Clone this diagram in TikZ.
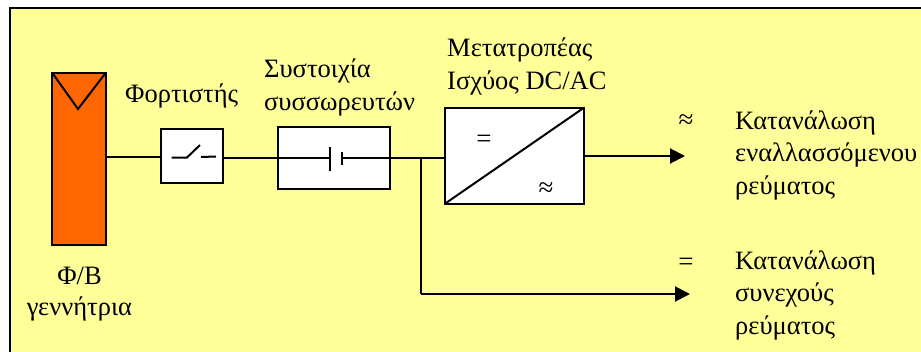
\documentclass[tikz,border=0pt]{standalone}
\usepackage{fontspec}
\setmainfont{Liberation Serif}
\usetikzlibrary{arrows.meta}
\definecolor{bgy}{HTML}{FFFF99}
\definecolor{pv}{HTML}{FF6600}
\tikzset{
  wire/.style={line width=2pt,draw=black},
  boxw/.style={draw=black,fill=white,line width=2pt,inner sep=0pt,outer sep=0pt},
  lbl/.style={font=\fontsize{26.5}{32.5}\selectfont,inner sep=0pt,align=left,anchor=base west},
  lblc/.style={font=\fontsize{26.5}{31}\selectfont,inner sep=0pt,align=center,anchor=base},
  sym/.style={font=\fontsize{27}{30}\selectfont,inner sep=0pt},
  arrowed/.style={wire,-{Triangle[length=15pt,width=15pt]}}
}
\begin{document}
\begin{tikzpicture}[x=1pt,y=-1pt]
\useasboundingbox (0,0) rectangle (921,351);
\fill[white] (0,0) rectangle (921,351);
\draw[fill=bgy,line width=2pt] (10,8) rectangle (923,353);
% PV generator
\node[boxw,fill=pv,minimum width=54pt,minimum height=172pt] (pv) at (79,158.5) {};
\draw[line width=2pt] (pv.north west) -- (78,109) -- (pv.north east);
\node[lblc] (pvl) at (79.5,315) {Φ/Β\\γεννήτρια};
% Charger
\node[boxw,minimum width=62pt,minimum height=54pt] (ch) at (192,156) {};
\coordinate (s1) at (171.5,157.5);\coordinate (s2) at (187,157.5);\coordinate (s3) at (200,145);
\coordinate (s4) at (201,157);\coordinate (s5) at (216,156.5);
\draw[wire] (s1) -- (s2) -- (s3);
\draw[wire] (s4) -- (s5);
\node[lbl] (chl) at (125,102) {Φορτιστής};
% Battery
\node[boxw,minimum width=112pt,minimum height=62pt] (bat) at (334,158) {};
\node[lbl] (batl) at (264,110) {Συστοιχία\\συσσωρευτών};
% Inverter
\node[boxw,minimum width=139pt,minimum height=96pt] (inv) at (514,156) {};
\draw[line width=2pt] (inv.south west) -- (inv.north east);
\node[sym] (ieq) at (484,141) {=};
\node[sym] (iap) at (546,190) {≈};
\node[lbl] (invl) at (447,89) {Μετατροπέας\\Ισχύος DC/AC};
% Wires
\coordinate (j) at (421,157.5);
\coordinate (jd) at (421,294);
\coordinate (a1) at (685,156);
\coordinate (a2) at (690,294);
\coordinate (c1t) at (330,147);\coordinate (c1b) at (330,171);
\coordinate (c2t) at (342,152);\coordinate (c2b) at (342,165);
\coordinate (c2m) at (342,157.5);
\draw[wire] (pv.east |- 0,157) -- (ch.west |- 0,157);
\draw[wire] (ch.east |- 0,157.5) -- (c1t |- 0,157.5);
\draw[wire] (c1t) -- (c1b);
\draw[wire] (c2t) -- (c2b);
\draw[wire] (c2m) -- (inv.west |- c2m);
\draw[wire] (j) -- (jd);
\draw[arrowed] (jd) -- (a2);
\draw[arrowed] (inv.east |- a1) -- (a1);
% Output labels
\node[sym] (oap) at (686,122) {≈};
\node[sym] (oeq) at (686,264) {=};
\node[lbl] (o1) at (735,194) {Κατανάλωση\\εναλλασσόμενου\\ρεύματος};
\node[lbl] (o2) at (735,334) {Κατανάλωση\\συνεχούς\\ρεύματος};
\end{tikzpicture}
\end{document}
